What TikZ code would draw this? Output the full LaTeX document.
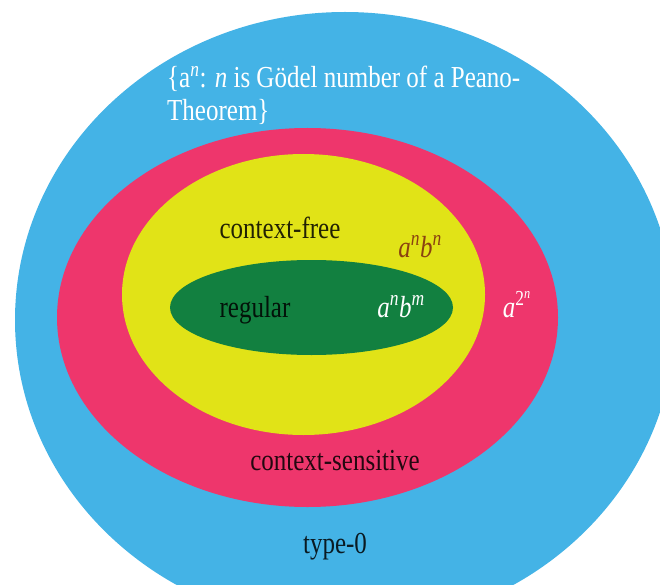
\documentclass[tikz,border=0pt]{standalone}
\usepackage{fontspec}
\setmainfont{Liberation Serif}
\usepackage{graphicx}
\usepackage{xcolor}
\definecolor{cType}{HTML}{44B3E6}
\definecolor{cSens}{HTML}{EE366C}
\definecolor{cFree}{HTML}{E1E317}
\definecolor{cReg}{HTML}{128040}
\definecolor{cBrown}{HTML}{8A4210}
\usepackage{tikz}
\usetikzlibrary{shapes.geometric}
\newcommand{\tallstr}[1]{\scalebox{1}[1.22]{#1}}
\tikzset{
  set-area/.style={ellipse,inner sep=0pt,outer sep=0pt,draw=none},
  set-type/.style={set-area,fill=cType},
  set-sens/.style={set-area,fill=cSens},
  set-free/.style={set-area,fill=cFree},
  set-reg/.style={set-area,fill=cReg},
  label-txt/.style={anchor=base,inner sep=0pt,font=\fontsize{25}{27}\selectfont},
  label-dark/.style={label-txt,text=black,text opacity=0.85},
  label-light/.style={label-txt,text=white},
}

\begin{document}
\begin{tikzpicture}[x=1pt,y=-1pt]
  \useasboundingbox (0,0) rectangle (660,585);
  \clip (0,0) rectangle (660,585);
  % nested language classes
  \node[set-type,minimum width=660pt,minimum height=616pt] (type) at (345,320) {};
  \node[set-sens,minimum width=501pt,minimum height=379pt] (sens) at (307.5,317.5) {};
  \node[set-free,minimum width=363pt,minimum height=281pt] (free) at (303.5,294.5) {};
  \node[set-reg,minimum width=283pt,minimum height=95pt] (reg) at (311.5,307.5) {};
  % labels
  \node[label-light,anchor=base west] (goedel1) at (167,88)
    {\tallstr{\{a\textsuperscript{\textit{n}}: \textit{n} is Gödel number of a Peano-}};
  \node[label-light,anchor=base west] (goedel2) at (167,121) {\tallstr{Theorem\}}};
  \node[label-dark] (freelbl) at (280,238) {\tallstr{context-free}};
  \node[label-txt,text=cBrown] (anbn) at (420,257)
    {\tallstr{\textit{a\textsuperscript{n}b\textsuperscript{n}}}};
  \node[label-dark] (reglbl) at (255,317) {\tallstr{regular}};
  \node[label-light] (anbm) at (401,317)
    {\tallstr{\textit{a\textsuperscript{n}b\textsuperscript{m}}}};
  \node[label-light] (atwo) at (517,317)
    {\tallstr{\textit{a}\textsuperscript{2\textsuperscript{\textit{n}}}}};
  \node[label-dark] (senslbl) at (335,470) {\tallstr{context-sensitive}};
  \node[label-dark] (typelbl) at (335,553) {\tallstr{type-0}};
\end{tikzpicture}
\end{document}
